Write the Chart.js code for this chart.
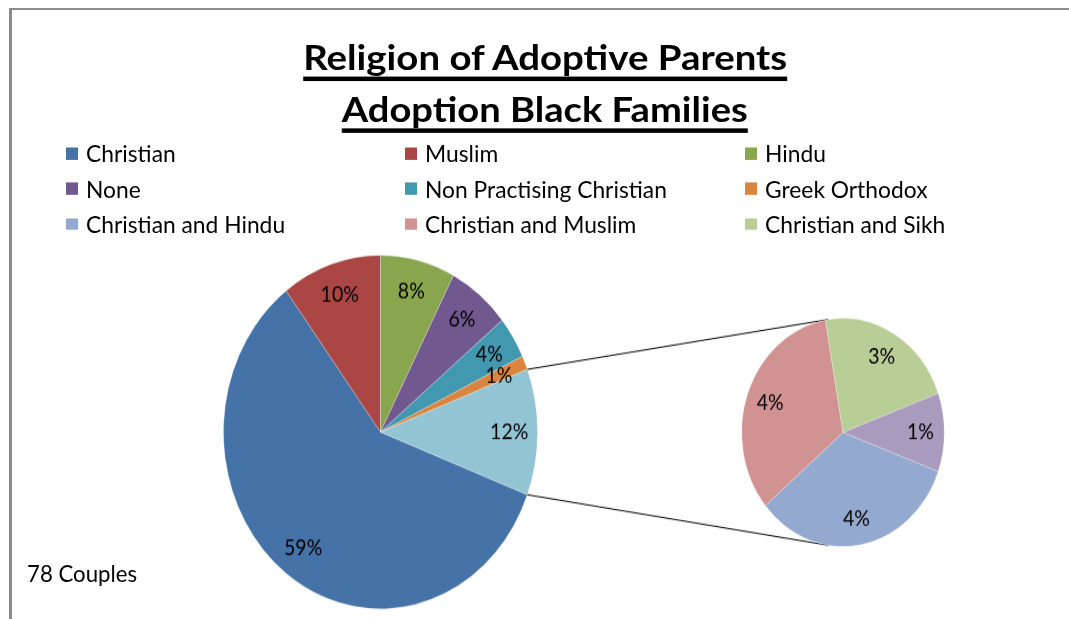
<!DOCTYPE html>
<html>
<head>
<meta charset="utf-8">
<script src="https://cdn.jsdelivr.net/npm/chart.js@4"></script>
<style>
html,body{margin:0;padding:0;background:#fff;}
body{width:1069px;height:619px;overflow:hidden;position:relative;font-family:Lato,"Open Sans",sans-serif;color:#000;}
#frameTop{position:absolute;left:9px;top:8px;width:1060px;height:2px;background:#8a8a8a;}
#frameLeft{position:absolute;left:9px;top:8px;width:3px;height:611px;background:#8a8a8a;}
#stage{position:absolute;left:0;top:0;width:1069px;height:550px;transform:scaleY(1.126);transform-origin:0 0;}
#mainWrap{position:absolute;left:0;top:0;width:1069px;height:550px;}
#subWrap{position:absolute;left:723px;top:264px;width:240px;height:240px;}
.title{position:absolute;left:0;width:1090px;text-align:center;font-weight:bold;font-size:30px;line-height:30px;white-space:nowrap;}
.title span{display:inline-block;text-decoration:underline;text-decoration-thickness:3.5px;text-underline-offset:6px;text-decoration-skip-ink:none;transform-origin:50% 50%;}
.leg{position:absolute;height:20px;display:flex;align-items:center;white-space:nowrap;font-size:20px;line-height:20px;}
.leg i{display:inline-block;width:12px;height:10.7px;margin-right:8px;flex:none;}
.leg span{display:inline-block;transform:scaleX(1.14);transform-origin:0 50%;}
#note{position:absolute;left:27px;font-size:20px;line-height:20px;white-space:nowrap;transform:scaleX(1.11);transform-origin:0 50%;}
</style>
</head>
<body>
<div id="frameTop"></div>
<div id="frameLeft"></div>
<div id="stage">
  <div class="title" id="t1" style="top:34.9px"><span>Religion of Adoptive Parents</span></div>
  <div class="title" id="t2" style="top:80.6px"><span>Adoption Black Families</span></div>
  <div id="legend"></div>
  <div id="mainWrap"><canvas id="mainChart"></canvas></div>
  <div id="subWrap"><canvas id="subChart"></canvas></div>
  <div id="note" style="top:499px">78 Couples</div>
</div>
<script>
// ---- data ----
const totalCouples = 78;
const mainLabels = ['Christian', 'Muslim', 'Hindu', 'None', 'Non Practising Christian', 'Greek Orthodox'];
const mainCounts = [46, 8, 6, 5, 3, 1];
const subLabels = ['Christian and Hindu', 'Christian and Muslim', 'Christian and Sikh', 'Other'];
const subCounts = [3, 3, 2, 1];
const legendSubCount = 3; // secondary entries shown in the legend
// ---- styles ----
const mainColors = ['#4572A7', '#AA4643', '#89A54E', '#71588F', '#4198AF', '#DB843D'];
const otherColor = '#93C4D4';
const subColors = ['#93A9CF', '#D19392', '#B9CD96', '#A99BBD'];

const otherCount = subCounts.reduce((a, b) => a + b, 0);
const subTotal = otherCount;

// legend (HTML, 3 columns)
const legendItems = mainLabels.map((l, i) => [l, mainColors[i]])
  .concat(subLabels.slice(0, legendSubCount).map((l, i) => [l, subColors[i]]));
const legendEl = document.getElementById('legend');
legendItems.forEach(([label, color], i) => {
  const d = document.createElement('div');
  d.className = 'leg';
  d.style.left = (65.5 + (i % 3) * 339.5) + 'px';
  d.style.top = (136.3 - 10 + Math.floor(i / 3) * 31.4) + 'px';
  d.innerHTML = '<i style="background:' + color + '"></i><span></span>';
  d.querySelector('span').textContent = label;
  legendEl.appendChild(d);
});

function fitTitle() {
  [['t1', 484], ['t2', 406]].forEach(([id, w]) => {
    const s = document.querySelector('#' + id + ' span');
    s.style.transform = 'none';
    const nat = s.getBoundingClientRect().width;
    if (nat > 0) s.style.transform = 'scaleX(' + (w / nat) + ')';
  });
}
fitTitle();
if (document.fonts && document.fonts.ready) document.fonts.ready.then(fitTitle);

const pctLabels = {
  id: 'pctLabels',
  afterDatasetsDraw(chart, args, opts) {
    const ctx = chart.ctx;
    const meta = chart.getDatasetMeta(0);
    const data = chart.data.datasets[0].data;
    ctx.save();
    ctx.font = opts.font;
    ctx.fillStyle = '#000';
    ctx.textAlign = 'center';
    ctx.textBaseline = 'middle';
    meta.data.forEach((arc, i) => {
      const p = arc.getProps(['x', 'y', 'startAngle', 'endAngle', 'outerRadius'], true);
      const mid = (p.startAngle + p.endAngle) / 2;
      const r = p.outerRadius * opts.factor;
      ctx.fillText(Math.round(data[i] / totalCouples * 100) + '%', p.x + Math.cos(mid) * r, p.y + Math.sin(mid) * r);
    });
    ctx.restore();
  }
};

let subChart = null;
const subWrap = document.getElementById('subWrap');

const connectors = {
  id: 'connectors',
  afterDatasetsDraw(chart) {
    if (!subChart) return;
    const meta = chart.getDatasetMeta(0);
    const arc = meta.data[meta.data.length - 1];
    const p = arc.getProps(['x', 'y', 'startAngle', 'endAngle', 'outerRadius'], true);
    const s = subChart.getDatasetMeta(0).data[0].getProps(['x', 'y', 'outerRadius'], true);
    const cx = subWrap.offsetLeft + s.x, cy = subWrap.offsetTop + s.y, R = s.outerRadius;
    const ctx = chart.ctx;
    ctx.save();
    ctx.strokeStyle = '#000';
    ctx.lineWidth = 1;
    [[p.startAngle, 1], [p.endAngle, -1]].forEach(([a, sign]) => {
      const px = p.x + Math.cos(a) * p.outerRadius, py = p.y + Math.sin(a) * p.outerRadius;
      const d = Math.hypot(px - cx, py - cy);
      const phi = Math.atan2(py - cy, px - cx);
      const t = phi + sign * Math.acos(R / d);
      ctx.beginPath();
      ctx.moveTo(px, py);
      ctx.lineTo(cx + Math.cos(t) * R, cy + Math.sin(t) * R);
      ctx.stroke();
    });
    ctx.restore();
  }
};

subChart = new Chart(document.getElementById('subChart'), {
  type: 'pie',
  data: {
    labels: subLabels,
    datasets: [{ data: subCounts, backgroundColor: subColors, borderColor: 'rgba(255,255,255,0.5)', borderWidth: 0.5, hoverOffset: 0 }]
  },
  options: {
    responsive: true, maintainAspectRatio: false, animation: false, events: [],
    rotation: 90 + (subCounts[subCounts.length - 1] / subTotal * 360) / 2,
    radius: 101.3,
    layout: { padding: 0 },
    plugins: { legend: { display: false }, tooltip: { enabled: false }, pctLabels: { factor: 0.765, font: '19.5px Lato' } }
  },
  plugins: [pctLabels]
});

new Chart(document.getElementById('mainChart'), {
  type: 'pie',
  data: {
    labels: mainLabels.concat(['Other']),
    datasets: [{ data: mainCounts.concat([otherCount]), backgroundColor: mainColors.concat([otherColor]), borderColor: 'rgba(255,255,255,0.5)', borderWidth: 0.5, hoverOffset: 0 }]
  },
  options: {
    responsive: true, maintainAspectRatio: false, animation: false, events: [],
    rotation: 90 + (otherCount / totalCouples * 360) / 2,
    radius: 157,
    layout: { padding: { left: 220.5, right: 528.5, top: 223.7, bottom: 6.3 } },
    plugins: { legend: { display: false }, tooltip: { enabled: false }, pctLabels: { factor: 0.82, font: '19.5px Lato' } }
  },
  plugins: [pctLabels, connectors]
});
</script>
</body>
</html>
